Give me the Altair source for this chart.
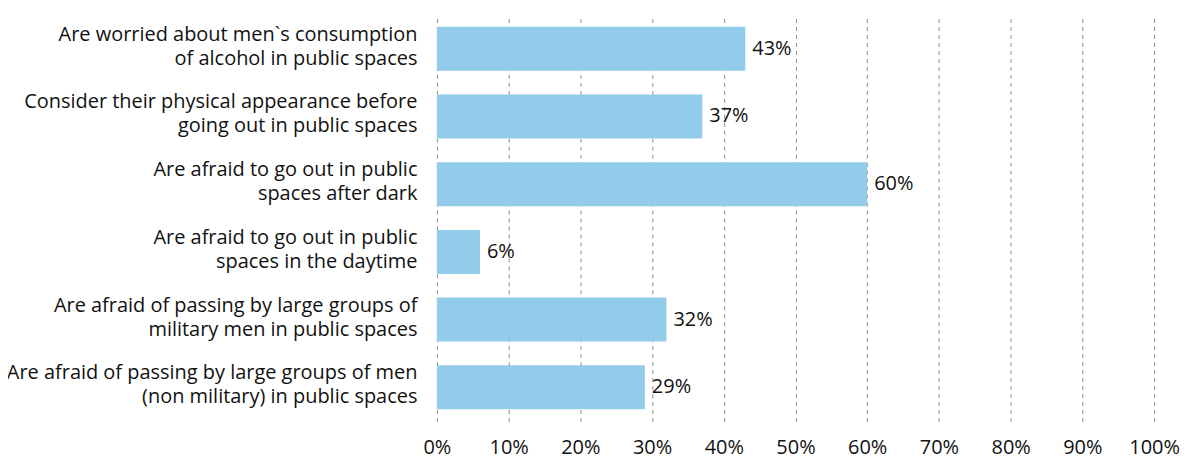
import altair as alt
import pandas as pd

categories = [
    "Are worried about men`s consumption|of alcohol in public spaces",
    "Consider their physical appearance before|going out in public spaces",
    "Are afraid to go out in public|spaces after dark",
    "Are afraid to go out in public|spaces in the daytime",
    "Are afraid of passing by large groups of|military men in public spaces",
    "Are afraid of passing by large groups of men|(non military) in public spaces",
]
values = [43, 37, 60, 6, 32, 29]
labels = [f"{v}%" for v in values]

df = pd.DataFrame({"cat": categories, "val": [v / 100 for v in values], "lab": labels})

FONT = "Open Sans"
FS = 20

y = alt.Y("cat:N", sort=None, title=None,
          scale=alt.Scale(paddingInner=0.35, paddingOuter=0.18),
          axis=alt.Axis(labelExpr="split(datum.label, '|')", labelFontSize=FS,
                        labelFont=FONT, labelColor="#111", labelPadding=20,
                        labelBaseline="middle", labelOffset=-14,
                        labelLineHeight=24, ticks=False, domain=False, labelLimit=500))
x = alt.X("val:Q", title=None,
          scale=alt.Scale(domain=[0, 1]),
          axis=alt.Axis(format=".0%", values=[i / 10 for i in range(11)],
                        labelFontSize=FS, labelFont=FONT, labelColor="#111",
                        labelFlush=False, labelOverlap=False,
                        labelPadding=16, ticks=False, domain=False,
                        grid=True, gridDash=[4, 4], gridColor="#8c8c8c", gridWidth=1))

bars = alt.Chart(df).mark_bar(color="#92CCEA").encode(x=x, y=y)
text = alt.Chart(df).mark_text(align="left", dx=7, fontSize=FS, font=FONT, color="#111").encode(
    x=alt.X("val:Q"), y=alt.Y("cat:N", sort=None), text="lab:N")

chart = (bars + text).properties(
    width=719, height=408,
    autosize=alt.AutoSizeParams(type="none"),
    padding={"left": 430, "top": 6, "right": 30, "bottom": 39},
).configure_view(stroke=None)

chart.save("out.html", embed_options={"renderer": "svg", "actions": False})
